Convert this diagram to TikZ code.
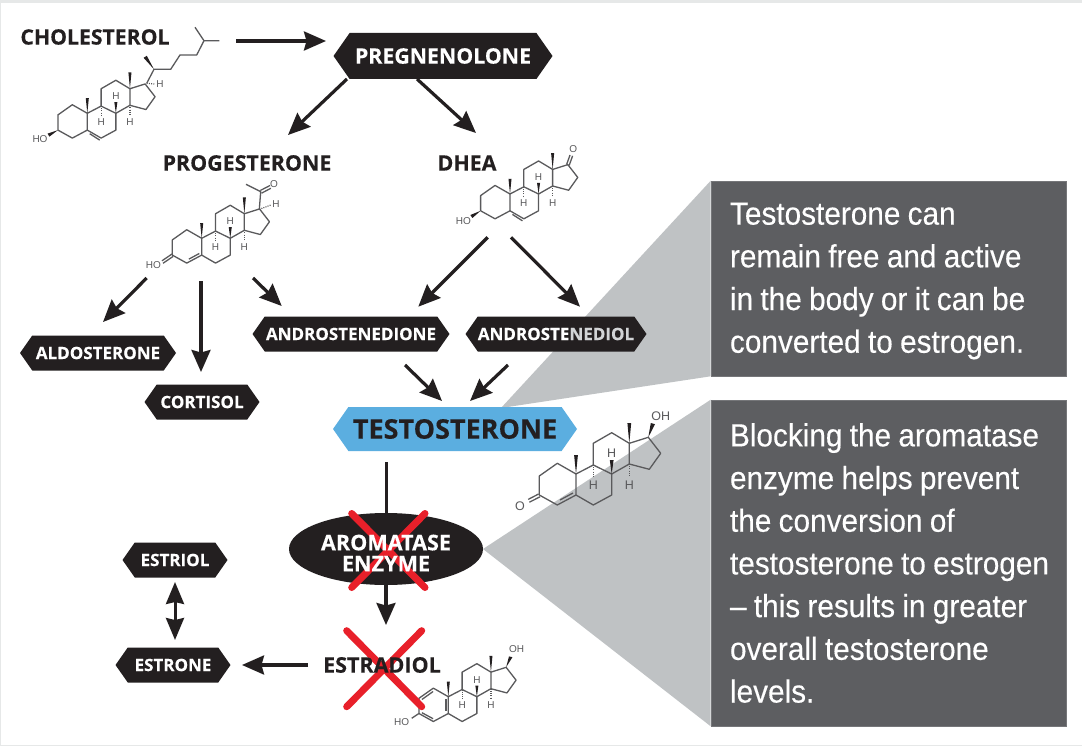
\documentclass[tikz,border=0pt]{standalone}
\usepackage{fontspec}
\setmainfont{Liberation Sans}
\newfontfamily\labfont[BoldFeatures={FakeBold=0.25}]{Open Sans}
\newfontfamily\callfont[FakeStretch=0.93,FakeBold=0.3]{Liberation Sans}
\usetikzlibrary{arrows.meta,calc,shapes.symbols,shapes.geometric}
\definecolor{inkblack}{HTML}{231F20}
\definecolor{boxgray}{HTML}{5D5E61}
\definecolor{tri}{HTML}{BFC2C4}
\definecolor{edgegray}{HTML}{E6E8E8}
\definecolor{skyblue}{HTML}{5BAEE0}
\definecolor{xred}{HTML}{E8202A}
\definecolor{bond}{HTML}{5A5A5C}
\newcommand{\fsz}[1]{\fontsize{#1}{#1}\selectfont}
\newcommand{\callsp}{\spaceskip=7.3pt\relax\hyphenpenalty=10000\relax}
\tikzset{
  x=1pt,y=-1pt,
  arr/.style={line width=3.2pt,color=inkblack,-{Stealth[length=22pt,width=19pt,inset=2.5pt]}},
  plainline/.style={line width=3pt,color=inkblack},
  hexnode/.style={signal,signal to=east and west,signal pointer angle=110,fill=inkblack,text=white,inner sep=0pt,minimum height=35pt,font=\labfont\bfseries\fsz{17}},
  toplabel/.style={inner sep=0pt,text=inkblack,font=\labfont\bfseries\fsz{21.4}},
  callbox/.style={fill=boxgray,draw=boxgray!85!white,line width=.6pt,text=white,inner sep=0pt,minimum width=355pt,text width=317pt,align=left,font=\callfont\fontsize{32}{42.7}\selectfont},
  bondline/.style={line width=1.3pt,color=bond,line join=round},
  hashb/.style={line width=1.2pt,color=bond,dash pattern=on 1pt off 1.2pt},
  atom/.style={inner sep=0pt,text=bond,font=\fsz{12.5}},
  redx/.style={line width=7pt,color=xred,line cap=round},
}
% vertical wedge in local molecule coordinates
\newcommand{\vwedge}[3]{\fill[inkblack] (#1,#2) -- (#1-1.9,#3) -- (#1+1.9,#3) -- cycle;}
% steroid skeleton: x, y, scale, extra drawing in the same frame
\newcommand{\steroid}[4]{%
\begin{scope}[shift={(#1,#2)},scale=#3]
  \draw[bondline] (0,0) -- (-18.7,-10.7) -- (-36.7,2) -- (-36.7,21) -- (-18.7,31) -- (0,21) -- cycle;
  \draw[bondline] (0,0) -- (17.3,-9) -- (35.7,0) -- (35.7,21) -- (17.3,31) -- (0,21);
  \draw[bondline] (17.3,-9) -- (17.3,-30.7) -- (35.7,-41.3) -- (53.3,-30.7) -- (53.3,-10) -- (35.7,0);
  \draw[bondline] (53.3,-30.7) -- (72.3,-36.7) -- (84.7,-20.7) -- (73.3,-4.7) -- (53.3,-10);
  \vwedge{0}{0}{-19}
  \vwedge{53.3}{-30.7}{-51}
  \vwedge{35.7}{0}{-14}
  \draw[hashb] (17.3,-9) -- (17.3,3);
  \draw[hashb] (53.3,-10) -- (53.3,3);
  \node[atom,transform shape] (h1) at (17.3,11) {H};
  \node[atom,transform shape] (h2) at (35.7,-21.3) {H};
  \node[atom,transform shape] (h3) at (53.3,11) {H};
  #4
\end{scope}}
\begin{document}
\begin{tikzpicture}
\useasboundingbox (0,0) rectangle (1082,746);
\fill[white] (0,0) rectangle (1082,746);
\fill[edgegray] (0,0) rectangle (1082,3.5);
\fill[edgegray] (0,0) rectangle (1.3,746);
\fill[edgegray] (0,744.6) rectangle (1082,746);

% callout boxes and their wedges
\node[callbox,minimum height=195pt] (box1) at (888.5,278.5) {\callsp\rule{0pt}{27pt}Testosterone can\\remain free and active\\in the body or it can be\\converted to estrogen.};
\node[callbox,minimum height=326pt] (box2) at (888.5,563) {\callsp Blocking the aromatase\\enzyme helps prevent\\the conversion of\\\mbox{testosterone to estrogen}\\– this results in greater\\overall testosterone\\levels.};
\coordinate (apex1) at (501,408);
\coordinate (apex2) at (483,549);
\fill[tri] (box1.north west) -- (box1.south west) -- (apex1) -- cycle;
\fill[tri] (box2.north west) -- (box2.south west) -- (apex2) -- cycle;

% labels and hexagons
\node[toplabel,font=\labfont\bfseries\fsz{21.2}] (chol) at (95,37) {CHOLESTEROL};
\node[hexnode,minimum height=46pt,minimum width=219pt,font=\labfont\bfseries\fsz{21.3}] (preg) at (443,56) {PREGNENOLONE};
\node[toplabel] (prog) at (247,163) {PROGESTERONE};
\node[toplabel] (dhea) at (467,163) {DHEA};
\node[hexnode,minimum width=156pt] (aldo) at (98,353) {ALDOSTERONE};
\node[hexnode,minimum width=115pt] (cort) at (202,402) {CORTISOL};
\node[hexnode,minimum width=197pt] (andione) at (351,334) {ANDROSTENEDIONE};
\node[hexnode,minimum width=181pt] (andiol) at (556,334) {ANDROSTE\textcolor{tri!70!white}{NEDIOL}};
\node[hexnode,fill=skyblue,text=inkblack,minimum height=44pt,minimum width=244pt,font=\labfont\bfseries\fsz{27}] (test) at (455,429) {TESTOSTERONE};
\node[ellipse,fill=inkblack,inner sep=0pt,minimum width=194pt,minimum height=72pt] (arom) at (386,549) {};
\node[hexnode,minimum width=105pt] (estriol) at (175,560) {ESTRIOL};
\node[hexnode,minimum width=115pt] (estrone) at (173,665) {ESTRONE};

% molecules
\steroid{87.3}{113.3}{0.8}{%
  \draw[bondline] (3,25.5) -- (15.5,33.5);
  \coordinate (cholM) at (0,0);}
\draw[bondline] (146.7,83.3) -- (154,69.3) -- (170.7,69.3) -- (180,55) -- (196.7,55) -- (204,40.7) -- (219.3,40.7);
\draw[bondline] (204,40.7) -- (195,27.3);
\fill[inkblack] (154,69.3) -- (146.8,55.8) -- (143.6,57.8) -- cycle;
\draw[hashb] (146.7,83.3) -- (155,84);
\node[atom,font=\fsz{10}] (cholH) at (160,84.5) {H};
\node[atom,font=\fsz{10}] (cholHO) at (40,139.5) {HO};
\fill[inkblack] (58,130.1) -- (47.6,133.6) -- (49.4,136.6) -- cycle;

\steroid{201.7}{238.3}{0.8}{%
  \draw[bondline] (-16,26) -- (-3,19);
  \coordinate (progM) at (0,0);}
\draw[bondline] (259.3,209.3) -- (260.7,191.7) -- (246,184.3);
\draw[bondline] (260.3,190.5) -- (270,185.5);
\draw[bondline] (261.5,193.2) -- (270.8,188.3);
\node[atom,font=\fsz{10}] (progO) at (274,184.3) {O};
\draw[hashb] (259.3,209.3) -- (271,205);
\node[atom,font=\fsz{10}] (progH) at (276,204.3) {H};
\node[atom,font=\fsz{10}] (progHO) at (153.3,265) {HO};
\draw[bondline] (172,254) -- (162,260.8);
\draw[bondline] (173,256.5) -- (163,263.3);

\steroid{510}{194}{0.8}{%
  \draw[bondline] (3,25.5) -- (15.5,33.5);
  \coordinate (dheaM) at (0,0);}
\draw[bondline] (566.6,164.6) -- (570,155);
\draw[bondline] (569.2,165.4) -- (572.6,155.8);
\node[atom,font=\fsz{10}] (dheaO) at (573.3,149.3) {O};
\node[atom,font=\fsz{10}] (dheaHO) at (463.3,221) {HO};
\fill[inkblack] (480.6,210.8) -- (470.4,215) -- (472.4,218) -- cycle;

\steroid{576}{474}{1}{%
  \draw[bondline] (-16,26) -- (-3,19);
  \coordinate (testM) at (0,0);}
\draw[bondline] (538.6,494) -- (528.2,499.4);
\draw[bondline] (540,496.8) -- (529.4,502.2);
\node[atom] (testO) at (520,506) {O};
\fill[inkblack] (648.3,437.3) -- (650.8,423) -- (655,424.2) -- cycle;
\node[atom] (testOH) at (660.7,416) {OH};

\steroid{448.3}{696.7}{0.8}{%
  \draw[bondline] (-3,3) -- (-3,18);
  \draw[bondline] (-19,-6.5) -- (-33,3.5);
  \draw[bondline] (-33,20) -- (-19,27.5);
  \coordinate (estrM) at (0,0);}
\node[atom,font=\fsz{10}] (estrHO) at (401.7,721.7) {HO};
\draw[bondline] (418.9,713.5) -- (411.7,718.3);
\node[atom,font=\fsz{10}] (estrOH) at (516.7,649.3) {OH};
\fill[inkblack] (506.1,667.3) -- (509,656.4) -- (512.4,657.2) -- cycle;

% connectors
\draw[arr] ($(chol)+(141,4)$) -- ($(preg)+(-117,-15)$);
\draw[arr] ($(preg)+(-96,23)$) -- ($(prog)+(41,-28)$);
\draw[arr] ($(preg)+(-26,23)$) -- ($(dhea)+(9,-30)$);
\draw[arr] ($(progM)+(-55,39.7)$) -- ($(aldo)+(5,-31)$);
\draw[arr] ($(progM)+(-0.7,42.7)$) -- ($(cort)+(-1,-30)$);
\draw[arr] ($(progM)+(51.3,39.7)$) -- ($(andione)+(-69.3,-28)$);
\draw[arr] ($(dheaM)+(-22.3,43.3)$) -- ($(andione)+(67.3,-27.3)$);
\draw[arr] ($(dheaM)+(1,43.3)$) -- ($(andiol)+(24,-27.3)$);
\draw[arr] ($(andione)+(54,31)$) -- ($(test)+(-13,-28)$);
\draw[arr] ($(andiol)+(-48,31)$) -- ($(test)+(15,-28)$);
\draw[plainline] ($(test)+(-69,33)$) -- (arom.north);
\coordinate (estrTop) at (386,625);
\draw[arr] (arom.south) -- (estrTop);
\coordinate (estrLeft) at (308,665);
\draw[arr] (estrLeft) -- ($(estrone)+(69,0)$);
\draw[line width=3pt,color=inkblack,{Stealth[length=22pt,width=18pt,inset=2pt]}-{Stealth[length=22pt,width=18pt,inset=2pt]}] ($(estriol)+(0,22)$) -- ($(estrone)+(2,-25)$);

% red crosses
\draw[redx] ($(arom)+(-34.3,-35.5)$) -- ($(arom)+(39,38.5)$);
\draw[redx] ($(arom)+(39,-35.5)$) -- ($(arom)+(-34.3,38.5)$);
\draw[redx] (346.7,630.7) -- (421.7,706.7);
\draw[redx] (421.7,630.7) -- (346.7,706.7);

% text over the crosses
\node[inner sep=0pt,text=white,align=center,font=\labfont\bfseries\fontsize{21.6}{21}\selectfont] (aromtext) at (386,553) {AROMATASE\\ENZYME};
\node[toplabel,font=\labfont\bfseries\fsz{21.5}] (estradiol) at (382,665) {ESTRADIOL};
\end{tikzpicture}
\end{document}
